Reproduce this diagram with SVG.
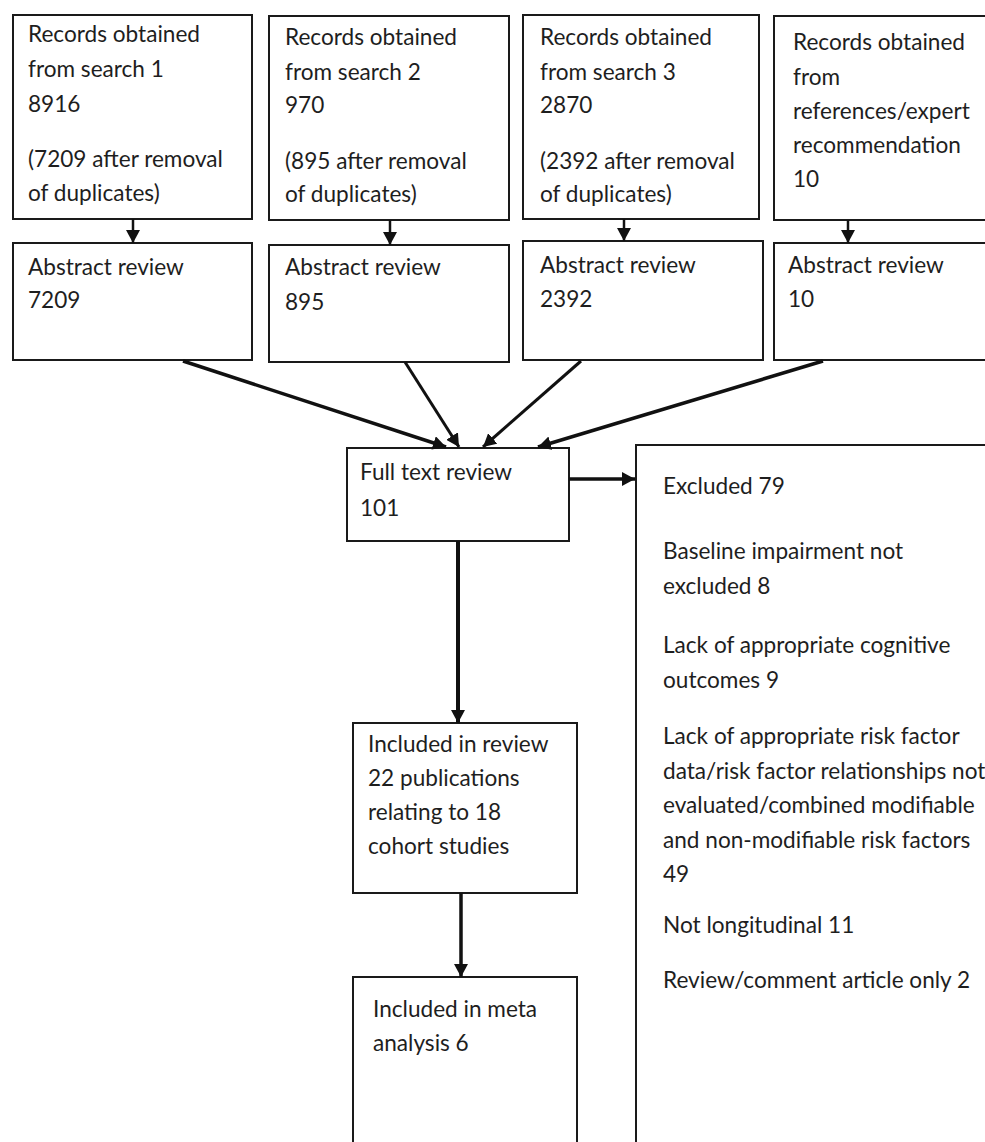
<svg xmlns="http://www.w3.org/2000/svg" width="985" height="1142" viewBox="0 0 985 1142">
<defs>
<style>
.box{fill:#fff;stroke:#1a1a1a;stroke-width:2}
.t{font-family:Lato,"Liberation Sans",sans-serif;font-size:22.6px;fill:#1e1e1e}
.c{stroke:#111;fill:none}
</style>
<marker id="ah" markerUnits="userSpaceOnUse" markerWidth="14" markerHeight="14" refX="13" refY="7" orient="auto">
<path d="M0,0 L13,7 L0,14 z" fill="#111"/>
</marker>
</defs>
<rect width="985" height="1142" fill="#fff"/>

<g id="n-search1">
<rect class="box" x="13" y="15" width="239" height="204"/>
<text class="t" x="28" y="42">Records obtained</text>
<text class="t" x="28" y="77">from search 1</text>
<text class="t" x="28" y="112">8916</text>
<text class="t" x="28" y="167">(7209 after removal</text>
<text class="t" x="28" y="201">of duplicates)</text>
</g>
<g id="n-search2">
<rect class="box" x="269" y="16" width="240" height="204"/>
<text class="t" x="285" y="45">Records obtained</text>
<text class="t" x="285" y="80">from search 2</text>
<text class="t" x="285" y="113">970</text>
<text class="t" x="285" y="169">(895 after removal</text>
<text class="t" x="285" y="202">of duplicates)</text>
</g>
<g id="n-search3">
<rect class="box" x="523" y="15" width="236" height="204"/>
<text class="t" x="540" y="45">Records obtained</text>
<text class="t" x="540" y="80">from search 3</text>
<text class="t" x="540" y="113">2870</text>
<text class="t" x="540" y="169">(2392 after removal</text>
<text class="t" x="540" y="202">of duplicates)</text>
</g>
<g id="n-refs">
<rect class="box" x="774" y="16" width="230" height="204"/>
<text class="t" x="793" y="50">Records obtained</text>
<text class="t" x="793" y="85">from</text>
<text class="t" x="793" y="119">references/expert</text>
<text class="t" x="793" y="153">recommendation</text>
<text class="t" x="793" y="187">10</text>
</g>

<g id="n-abs1">
<rect class="box" x="13" y="243" width="239" height="117"/>
<text class="t" x="28" y="275">Abstract review</text>
<text class="t" x="28" y="308">7209</text>
</g>
<g id="n-abs2">
<rect class="box" x="269" y="245" width="240" height="117"/>
<text class="t" x="285" y="275">Abstract review</text>
<text class="t" x="285" y="310">895</text>
</g>
<g id="n-abs3">
<rect class="box" x="523" y="241" width="240" height="119"/>
<text class="t" x="540" y="273">Abstract review</text>
<text class="t" x="540" y="307">2392</text>
</g>
<g id="n-abs4">
<rect class="box" x="774" y="243" width="230" height="117"/>
<text class="t" x="788" y="273">Abstract review</text>
<text class="t" x="788" y="307">10</text>
</g>

<g id="n-fulltext">
<rect class="box" x="347" y="448" width="222" height="93"/>
<text class="t" x="360" y="480">Full text review</text>
<text class="t" x="360" y="516">101</text>
</g>

<g id="n-excluded">
<rect class="box" x="636" y="445" width="380" height="720"/>
<text class="t" x="663" y="494">Excluded 79</text>
<text class="t" x="663" y="559">Baseline impairment not</text>
<text class="t" x="663" y="594">excluded 8</text>
<text class="t" x="663" y="653">Lack of appropriate cognitive</text>
<text class="t" x="663" y="688">outcomes 9</text>
<text class="t" x="663" y="744">Lack of appropriate risk factor</text>
<text class="t" x="663" y="779">data/risk factor relationships not</text>
<text class="t" x="663" y="813">evaluated/combined modifiable</text>
<text class="t" x="663" y="848">and non-modifiable risk factors</text>
<text class="t" x="663" y="882">49</text>
<text class="t" x="663" y="933">Not longitudinal 11</text>
<text class="t" x="663" y="988">Review/comment article only 2</text>
</g>

<g id="n-included">
<rect class="box" x="353" y="723" width="224" height="170"/>
<text class="t" x="368" y="752">Included in review</text>
<text class="t" x="368" y="786">22 publications</text>
<text class="t" x="368" y="820">relating to 18</text>
<text class="t" x="368" y="854">cohort studies</text>
</g>

<g id="n-meta">
<rect class="box" x="353" y="977" width="224" height="200"/>
<text class="t" x="373" y="1017">Included in meta</text>
<text class="t" x="373" y="1051">analysis 6</text>
</g>

<g id="connectors">
<line class="c" stroke-width="2.5" x1="133" y1="219" x2="133" y2="243" marker-end="url(#ah)"/>
<line class="c" stroke-width="2.5" x1="390" y1="220" x2="390" y2="245" marker-end="url(#ah)"/>
<line class="c" stroke-width="2.5" x1="624" y1="219" x2="624" y2="241" marker-end="url(#ah)"/>
<line class="c" stroke-width="2.5" x1="848" y1="220" x2="848" y2="243" marker-end="url(#ah)"/>
<line class="c" stroke-width="3.5" x1="183" y1="361" x2="446" y2="447" marker-end="url(#ah)"/>
<line class="c" stroke-width="3" x1="405" y1="362" x2="459" y2="447" marker-end="url(#ah)"/>
<line class="c" stroke-width="3" x1="581" y1="361" x2="483" y2="447" marker-end="url(#ah)"/>
<line class="c" stroke-width="3.5" x1="823" y1="361" x2="538" y2="447" marker-end="url(#ah)"/>
<line class="c" stroke-width="3.5" x1="569" y1="479" x2="635" y2="479" marker-end="url(#ah)"/>
<line class="c" stroke-width="4" x1="458" y1="541" x2="458" y2="723" marker-end="url(#ah)"/>
<line class="c" stroke-width="3.5" x1="461" y1="893" x2="461" y2="977" marker-end="url(#ah)"/>
</g>
</svg>
